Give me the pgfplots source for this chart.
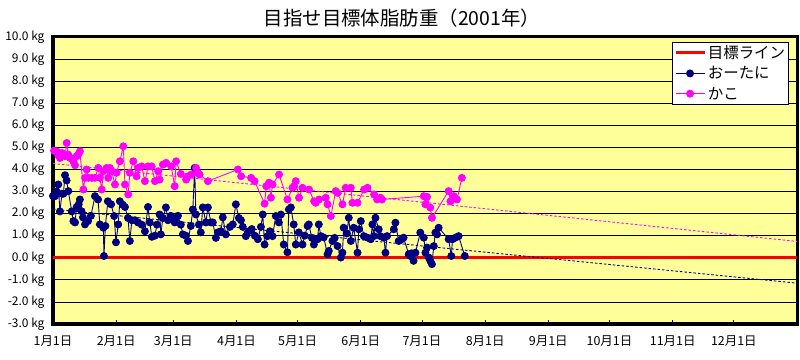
\documentclass[border=0pt]{standalone}
\usepackage{fontspec}
\setmainfont{Noto Sans CJK JP}
\usepackage{pgfplots}
\pgfplotsset{compat=1.18}
\definecolor{navyc}{RGB}{0,0,128}
\definecolor{magc}{RGB}{255,0,255}
\definecolor{bgy}{RGB}{255,255,153}
\pgfplotstableread{
x y
0 2.8
1 2.79
1.8 3.0
2.6 3.32
3.4 2.1
4.4 2.9
5.1 2.9
5.9 3.74
6.7 3.5
7.5 3.02
9.2 2.1
10 1.66
10.8 1.6
11.6 2.3
12.6 2.42
13.2 2.64
14 2.11
14.7 1.83
15.7 1.51
17.2 1.66
18.6 1.9
20.6 2.79
22.1 2.64
23 1.51
24.7 1.36
25 0.08
25.7 1.44
26.9 2.56
28.5 2.42
30 1.89
30.9 0.7
32 1.51
32.8 2.56
34.3 2.4
35.3 2.3
36.8 1.8
37.7 0.76
38.7 1.7
40.2 1.7
41.7 1.6
43.5 1.5
45.1 1.2
46.6 2.3
47.5 1.6
48.5 0.95
50 1.0
51 1.5
52.3 1.96
52.9 1.06
53.9 1.8
55.4 2.28
56.4 1.7
57.8 1.9
59.7 1.6
60.3 1.8
61.3 1.9
62.7 1.5
63.7 1.06
65.2 1.0
66.2 0.76
67.6 1.44
68.6 2.19
69.5 4.07
70.1 1.96
71.6 1.5
72.5 1.15
73.5 2.28
75 1.6
76 2.28
77.5 1.6
78.4 1.6
79.9 0.9
80.9 1.15
82.4 1.2
83.3 1.83
84.8 1.06
86.8 1.4
88.2 1.51
89.7 2.42
91.2 1.8
92.2 1.7
93.1 1.4
94.6 0.98
96.1 1.2
97.5 1.3
99 1.0
100.5 0.84
102 1.4
102.9 1.96
103.8 0.6
105.2 0.98
106.4 1.2
107.7 0.98
109.3 1.89
110.8 1.6
111.8 1.96
113.2 0.6
115 0.25
115.7 2.19
116.7 2.28
118.1 1.51
119.1 0.6
120.6 1.15
122.4 0.6
123.5 1.0
124.9 1.44
125.5 1.51
127 0.9
128 0.6
129.8 0.84
130.4 1.51
131.4 0.98
132.8 0.92
134.7 0.16
135.3 0.31
137.1 0.76
138.2 0.9
139.6 0.53
141.2 0.01
142 0.23
142.6 1.36
144.1 1.1
145.1 1.81
146.1 0.76
147.5 1.36
149.4 0.23
150 1.29
151 1.66
152.5 0.98
154.3 0.91
155.9 0.84
156.7 1.51
157.4 0.98
158.2 1.81
159.8 1.29
160.6 0.98
162.3 0.91
163.1 0.23
163.9 0.98
167.2 1.29
168 1.59
169.6 0.76
171.1 0.84
172 0.91
174.5 0.16
175.3 0.08
176 0.2
176.9 -0.14
177.8 0.23
180.2 1.14
181.9 0.91
182.7 0.23
183.5 0.46
184.3 0.01
185.1 -0.14
185.9 -0.29
186.8 0.53
187.6 1.14
188.4 1.06
189.2 1.36
194.1 0.84
195.4 0.08
196 0.84
197.4 0.91
199 0.98
202 0.08
}\otani
\pgfplotstableread{
x y
0.5 4.85
1.8 4.82
2.6 4.64
3.4 4.52
4.3 4.75
5.9 4.6
6.7 5.2
7.5 4.67
8.3 4.52
10 4.37
10.8 4.19
11.6 4.6
12.4 4.67
13.2 4.82
14.9 3.09
15.7 3.62
16.5 4.0
17.3 3.62
19.1 3.62
20.6 3.62
22.2 4.07
23 3.62
23.9 3.09
24.7 3.92
26.3 4.07
27.1 3.62
27.9 4.07
28.8 3.92
30.4 3.32
31.2 3.85
32.8 4.37
34.5 5.05
35.3 3.32
36.9 2.87
37.7 3.85
39.4 4.37
41 3.69
41.8 4.07
43.5 4.14
45.1 3.47
46.7 4.14
48.4 4.14
50 3.47
51.6 3.92
52.3 3.54
53.9 4.22
55.5 4.3
58 4.14
59.7 3.24
60.4 4.37
62.7 3.8
65.3 3.54
66.2 3.69
67.8 3.77
70.2 4.07
71.1 3.85
71.9 3.77
76 3.47
90.7 4.0
92.3 3.69
97.2 3.62
98.9 3.47
103.8 2.45
104.6 3.24
106 3.4
106.9 2.72
107.7 3.32
110.9 3.77
115 2.64
117.5 3.17
118.3 3.24
119.1 3.47
120.7 2.72
122.4 3.17
125.6 3.09
128.1 2.56
128.9 2.49
130.5 2.64
133.8 2.72
134.7 2.42
136.3 1.89
138.7 3.02
139.6 2.94
142 2.42
143.6 3.17
146.1 3.17
146.9 2.49
149.4 2.49
152.6 3.09
154.3 3.17
157.5 2.87
159 2.64
160.6 2.72
161.4 2.64
181.9 2.79
182.7 2.42
183.5 2.76
185.1 2.27
185.9 1.81
194.1 3.02
195 2.56
196.6 2.79
198.2 2.64
200.6 3.62
}\kako
\begin{document}
\begin{tikzpicture}
\useasboundingbox (0,0) rectangle (800bp,360bp);
\fill[white] (0,0) rectangle (800bp,360bp);
\begin{axis}[
  at={(53bp,36bp)}, anchor=south west,
  scale only axis, width=744bp, height=287bp,
  xmin=0, xmax=365, ymin=-3, ymax=10,
  axis background/.style={fill=bgy},
  axis line style={line width=3bp, black},
  xtick={0,31,59,90,120,151,181,212,243,273,304,334},
  xticklabels={1月1日,2月1日,3月1日,4月1日,5月1日,6月1日,7月1日,8月1日,9月1日,10月1日,11月1日,12月1日},
  ytick={-3,-2,-1,0,1,2,3,4,5,6,7,8,9,10},
  yticklabels={-3.0 kg,-2.0 kg,-1.0 kg,0.0 kg,1.0 kg,2.0 kg,3.0 kg,4.0 kg,5.0 kg,6.0 kg,7.0 kg,8.0 kg,9.0 kg,10.0 kg},
  xtick pos=lower, ytick pos=left,
  tick align=inside,
  xtick style={black, line width=0.8bp}, major tick length=4bp,
  ytick style={draw=none},
  ymajorgrids, grid style={black, line width=0.8bp},
  xticklabel style={font=\fontsize{12.5}{14}\selectfont, yshift=-8bp},
  yticklabel style={font=\fontsize{12}{14}\selectfont, xshift=-5bp},
  title={目指せ目標体脂肪重（2001年）},
  title style={at={(0.469,1.046)}, anchor=center, font=\fontsize{19.5}{21}\selectfont},
  legend style={at={(0.989,0.983)}, anchor=north east, draw=black, thin, fill=white,
    font=\fontsize{15.5}{17}\selectfont, inner sep=1.5bp, row sep=2.5bp},
  legend cell align=left,
  legend image code/.code={\draw[mark repeat=2,mark phase=2,#1] plot coordinates {(0bp,0bp) (14.5bp,0bp) (29bp,0bp)};},
]
\addplot[red, line width=2.8bp, no marks] coordinates {(0,0) (365,0)};
\addlegendentry{目標ライン}
\addplot[navyc, line width=0.9bp, mark=*, mark size=3.5bp, mark options={fill=navyc, draw=navyc}] table[x=x,y=y] {\otani};
\addlegendentry{おーたに}
\addplot[magc, line width=0.9bp, mark=*, mark size=3.5bp, mark options={fill=magc, draw=magc}] table[x=x,y=y] {\kako};
\addlegendentry{かこ}
\addplot[magc, line width=0.9bp, dash pattern=on 2.5bp off 2bp, no marks, forget plot] coordinates {(0,4.27) (365,0.74)};
\addplot[navyc, line width=0.9bp, dash pattern=on 2.5bp off 2bp, no marks, forget plot] coordinates {(0,2.2) (365,-1.15)};
\end{axis}
\end{tikzpicture}
\end{document}
